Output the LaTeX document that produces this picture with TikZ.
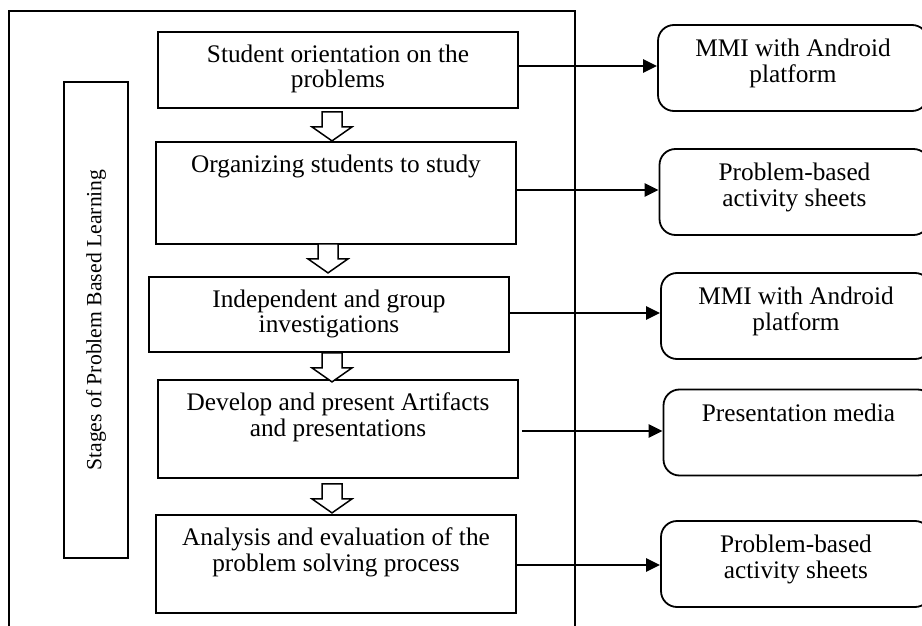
\documentclass[tikz,border=0pt]{standalone}
\usepackage{fontspec}
\setmainfont{Liberation Serif}
\usetikzlibrary{arrows.meta}
\usetikzlibrary{positioning}

\begin{document}
\begin{tikzpicture}[x=1pt,y=-1pt,
    stagebox/.style={draw,line width=1.8pt,minimum width=360pt,inner sep=0pt},
    mediabox/.style={draw,line width=1.8pt,rounded corners=16pt,minimum width=270pt,minimum height=86pt,inner sep=0pt},
    boxtext/.style={align=center,inner sep=0pt,font=\fontsize{25.3}{25.5}\selectfont},
    link/.style={line width=2.4pt,-{Triangle[length=14pt,width=13pt]}},
    blockdown/.pic={\draw[line width=1.5pt,fill=white] (-10,0) -- (10,0) -- (10,15) -- (20,15) -- (0,29) -- (-20,15) -- (-10,15) -- cycle;}]
    \useasboundingbox (0,0) rectangle (922,626);
    \clip (0,0) rectangle (922,626);
    % outer frame, open at the bottom
    \draw[line width=1.8pt] (9,640) -- (9,11) -- (575,11) -- (575,640);
    \node[draw,line width=1.5pt,rotate=90,minimum width=476pt,minimum height=64pt,inner sep=0pt,font=\fontsize{21.7}{22}\selectfont] (stages) at (96,320) {Stages of Problem Based Learning};

    % stages
    \node[stagebox,minimum height=76pt] (s1) at (338,70) {};
    \node[stagebox,minimum height=102pt] (s2) at (336,193) {};
    \node[stagebox,minimum height=75pt] (s3) at (329,314.5) {};
    \node[stagebox,minimum height=98pt] (s4) at (338,429) {};
    \node[stagebox,minimum height=98pt] (s5) at (336,564) {};
    \node[boxtext,below=13.5pt of s1.north] (s1t) {Student orientation on the\\problems};
    \node[boxtext,below=13.5pt of s2.north] (s2t) {Organizing students to study};
    \node[boxtext,below=13.5pt of s3.north] (s3t) {Independent and group\\investigations};
    \node[boxtext,below=13.5pt of s4.north] (s4t) {Develop and present Artifacts\\and presentations};
    \node[boxtext,below=13.5pt of s5.north] (s5t) {Analysis and evaluation of the\\problem solving process};

    % block arrows between the stages
    \pic at ([xshift=-6pt,yshift=-3pt]s1.south) {blockdown};
    \pic at ([xshift=-8pt,yshift=1pt]s2.south) {blockdown};
    \pic at ([xshift=3pt,yshift=0pt]s3.south) {blockdown};
    \pic at ([xshift=-6pt,yshift=-5pt]s4.south) {blockdown};

    % media
    \node[mediabox] (r1) at (793,68) {};
    \node[mediabox] (r2) at (794.5,192) {};
    \node[mediabox] (r3) at (796,316) {};
    \node[mediabox] (r4) at (798.5,432.5) {};
    \node[mediabox] (r5) at (796,564) {};
    \node[boxtext,below=15pt of r1.north] (r1t) {MMI with Android\\platform};
    \node[boxtext,below=15pt of r2.north] (r2t) {Problem-based\\activity sheets};
    \node[boxtext,below=15pt of r3.north] (r3t) {MMI with Android\\platform};
    \node[boxtext,below=15pt of r4.north] (r4t) {Presentation media};
    \node[boxtext,below=15pt of r5.north] (r5t) {Problem-based\\activity sheets};

    \draw[link] ([yshift=4pt]s1.east) -- ([yshift=4pt]s1.east -| r1.west);
    \draw[link] ([yshift=3pt]s2.east) -- ([yshift=3pt]s2.east -| r2.west);
    \draw[link] ([yshift=1.5pt]s3.east) -- ([yshift=1.5pt]s3.east -| r3.west);
    \draw[link] ([xshift=3pt,yshift=-2pt]s4.east) -- ([yshift=-2pt]s4.east -| r4.west);
    \draw[link] ([yshift=-1pt]s5.east) -- ([yshift=-1pt]s5.east -| r5.west);
\end{tikzpicture}
\end{document}
